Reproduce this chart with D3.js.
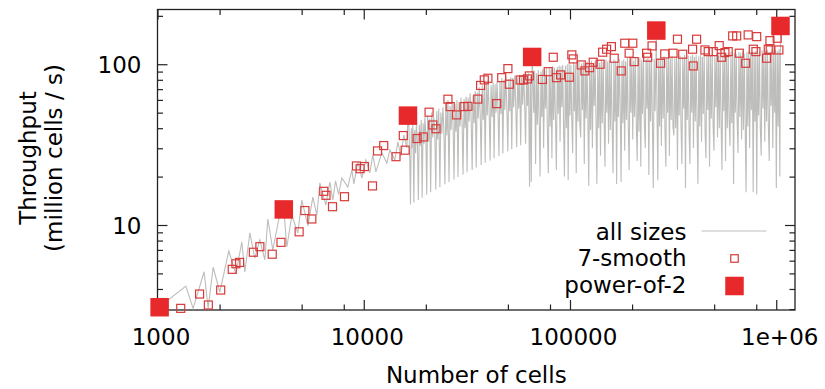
<!DOCTYPE html>
<html>
<head>
<meta charset="utf-8">
<script src="https://cdn.jsdelivr.net/npm/d3@7"></script>
<style>
  body { margin: 0; background: #fff; }
  svg text { font-family: "DejaVu Sans", sans-serif; font-size: 23px; fill: #000; }
</style>
</head>
<body>
<svg id="chart" width="825" height="389"></svg>
<script>
// [cells, million cells / s]
const powerOf2 = [[1024, 3.08], [4096, 12.5], [16384, 47.9], [65536, 111], [262144, 162], [1048576, 173]];

const smooth7 = [
  [1296, 3.03], [1600, 3.72], [1764, 3.18], [2025, 3.94], [2304, 5.3], [2400, 5.74], [2500, 5.85],
  [2916, 6.77], [3136, 7.33], [3600, 6.58], [3969, 7.8], [4860, 9.07], [5184, 12.3], [5600, 10.9],
  [6400, 16.2], [6561, 15.3], [7056, 13.0], [8064, 15.0], [9216, 23.3], [9600, 22.4], [10080, 23.1],
  [11025, 17.5], [11664, 28.9], [12500, 31.2], [14336, 26.6], [15552, 36.0], [15876, 29.2],
  [18144, 34.5], [19440, 35.3], [20736, 50.3], [21600, 41.9], [22400, 39.7], [25600, 60.6],
  [26244, 54.5], [28224, 48.4], [30618, 54.5], [32000, 54.7], [35721, 60.7], [36864, 73.8],
  [38416, 79.9], [40000, 81.8], [44100, 56.9], [46656, 82.5], [50000, 93.9], [50803, 75.1],
  [57344, 79.8], [59535, 79.8], [62208, 81.0], [63504, 84.6], [73500, 80.4], [78400, 89.9],
  [82944, 110.5], [86016, 82.5], [90000, 85.8], [99225, 83.0], [102060, 114.3], [103680, 107.9],
  [113400, 99.0], [118098, 90.9], [124416, 95.2], [129600, 102.9], [139968, 100], [144000, 118.8],
  [150528, 124.0], [158760, 128.7], [163840, 109.0], [177147, 90.9], [184320, 135.1], [193536, 117.1],
  [201600, 135.1], [204800, 103.8], [235200, 117.1], [238000, 110.5], [250000, 130.0], [275000, 101.4],
  [288000, 115.9], [316000, 117.1], [332000, 143.1], [352000, 115.4], [393000, 124.0], [396000, 97.6],
  [411000, 143.1], [451000, 122.7], [468000, 119.8], [495000, 119.8], [529000, 130.5], [544000, 110.5],
  [564000, 118.1], [585000, 119.8], [615000, 150.0], [643000, 150.0], [662000, 117.1], [711000, 101.4],
  [731000, 152.2], [774000, 124.0], [797000, 119.8], [804000, 148.5], [898000, 109.0], [914500, 124.0],
  [932000, 140.2], [935000, 122.7], [1011000, 145.1], [1030000, 122.7]
];

// all sizes, small: clean zigzag
const allSizesSmall = [
  [1024, 3.1], [1372, 4.17], [1488, 3.03], [1683, 5.12], [1760, 3.04], [1861, 5.46], [2005, 3.83],
  [2217, 6.89], [2397, 4.96], [2564, 7.84], [2651, 5.1], [2803, 8.92], [2964, 6.23], [3134, 8.07],
  [3315, 6.06], [3427, 10.9], [3624, 6.99], [3876, 10.9], [4096, 12.5], [4238, 7.3], [4481, 11.5],
  [4790, 8.92], [5010, 14.3], [5357, 9.86], [5665, 14.9], [5924, 11.5], [6125, 18.3], [6550, 13.3],
  [6849, 18.5], [7082, 14.3], [7300, 18.8], [7550, 15.5], [7831, 19.6], [8373, 17.2], [8757, 22.0],
  [8954, 18.0], [9363, 24.7], [9790, 19.6], [10240, 25.4], [10700, 21.1], [11070, 27.3], [11450, 21.4],
  [12240, 28.1], [12940, 24.3], [13390, 29.3], [14150, 25.4], [14640, 32.8], [15130, 26.9],
  [15650, 36.3], [16180, 30.2], [16384, 47.9]
];

// all sizes, medium: spikes whose floor rises with size
const allSizesMedium = [
  [16550, 41], [16700, 27], [16850, 13.4], [17000, 40], [17150, 30], [17300, 43], [17500, 13.8],
  [17650, 39], [17850, 28], [18000, 44], [18200, 33], [18400, 14.3], [18600, 42], [18800, 31],
  [19000, 45], [19200, 14.8], [19400, 43], [19600, 32], [19800, 47], [20000, 36], [20200, 15.4],
  [20400, 48], [20650, 33], [20900, 46], [21100, 16.0], [21350, 50], [21600, 35], [21850, 47],
  [22100, 38], [22350, 16.6], [22600, 51], [22850, 34], [23100, 53], [23400, 17.2], [23650, 50],
  [23900, 37], [24200, 54], [24450, 40], [24750, 17.9], [25000, 57], [25300, 36], [25600, 60],
  [25900, 18.5], [26200, 55], [26500, 39], [26800, 58], [27100, 42], [27400, 19.2], [27700, 57],
  [28000, 38], [28300, 60], [28650, 19.9], [28950, 58], [29300, 41], [29600, 62], [29950, 45],
  [30300, 20.6], [30650, 61], [31000, 40], [31350, 63], [31700, 21.3], [32050, 62], [32400, 44],
  [32800, 66], [33150, 47], [33550, 22.0], [33900, 64], [34300, 43], [34700, 68], [35100, 22.8],
  [35500, 67], [35900, 46], [36300, 72], [36700, 49], [37100, 23.6], [37550, 74], [37950, 45],
  [38400, 72], [38800, 24.4], [39250, 77], [39700, 48], [40100, 80], [40550, 51], [41000, 25.2],
  [41450, 74], [41900, 47], [42400, 77], [42850, 26.0], [43300, 75], [43800, 50], [44250, 78],
  [44750, 53], [45250, 26.9], [45750, 79], [46250, 49], [46750, 82], [47250, 27.8], [47800, 80],
  [48300, 52], [48850, 84], [49400, 55], [49950, 28.7], [50500, 81], [51050, 51], [51600, 83],
  [52200, 29.6], [52750, 82], [53350, 54], [53950, 85], [54550, 57], [55150, 30.5], [55750, 83],
  [56400, 53], [57000, 86], [57650, 31.3], [58300, 84], [58950, 56], [59600, 87], [60250, 58],
  [60900, 32], [61600, 85], [62250, 55], [62950, 88], [63650, 17.3], [64300, 84], [64900, 18.5],
  [65536, 108]
];

// all sizes, large: dense band with deep spikes
const allSizesLarge = [
  [66000, 89], [66700, 50], [67400, 91], [68100, 24], [68800, 88], [69500, 42], [70200, 92],
  [70900, 44], [71600, 20], [72300, 90], [73000, 47], [73700, 93], [74500, 30], [75300, 91],
  [76100, 53], [76900, 94], [77700, 38], [78500, 21], [79300, 95], [80100, 41], [80900, 93],
  [81700, 26], [82500, 97], [83300, 45], [84100, 95], [85000, 46], [85900, 22], [86800, 96],
  [87700, 49], [88600, 98], [89500, 33], [90400, 97], [91300, 54], [92200, 99], [93100, 40],
  [94000, 20], [95000, 98], [96000, 40], [97000, 100], [98000, 19], [99000, 101], [100000, 48],
  [101000, 99], [102000, 45], [103000, 28], [104000, 103], [105000, 51], [106100, 100], [107200, 21],
  [108300, 102], [109400, 44], [110500, 104], [111600, 42], [112700, 35], [113800, 101], [114900, 52],
  [116100, 103], [117300, 24], [118500, 100], [119700, 46], [120900, 104], [122100, 47], [123300, 17.5],
  [124500, 102], [125800, 39], [127100, 105], [128400, 30], [129700, 101], [131000, 55], [132300, 104],
  [133600, 48], [135000, 18], [136400, 106], [137800, 40], [139200, 102], [140600, 27], [142000, 105],
  [143400, 43], [144800, 103], [146300, 46], [147800, 23], [149300, 107], [150800, 50], [152300, 104],
  [153800, 32], [155300, 106], [156900, 39], [158500, 103], [160100, 41], [161700, 21], [163300, 107],
  [164900, 44], [166600, 105], [168300, 18], [170000, 104], [171700, 47], [173400, 108], [175100, 55],
  [176900, 18.5], [178700, 105], [180500, 43], [182300, 107], [184100, 29], [186000, 104], [187900, 45],
  [189800, 109], [191700, 40], [193600, 22], [195500, 106], [197500, 50], [199500, 108], [201500, 34],
  [203500, 105], [205500, 47], [207600, 109], [209700, 42], [211800, 25], [213900, 107], [216000, 38],
  [218200, 110], [220400, 23], [222600, 106], [224800, 49], [227100, 109], [229400, 42], [231700, 30],
  [234000, 108], [236300, 53], [238700, 110], [241100, 20.5], [243500, 107], [245900, 44], [248400, 111],
  [250900, 44], [253400, 17], [255900, 108], [258500, 51], [261100, 110], [262144, 162], [264000, 55],
  [266600, 19], [269300, 109], [272000, 41], [274700, 111], [277400, 31], [280200, 108], [283000, 46],
  [285800, 112], [288700, 39], [291600, 23], [294500, 109], [297400, 50], [300400, 111], [303400, 27],
  [306400, 110], [309500, 45], [312600, 113], [315700, 41], [318900, 36], [322100, 109], [325300, 40],
  [328600, 112], [331900, 22], [335200, 110], [338500, 48], [341900, 113], [345300, 43], [348800, 24],
  [352300, 111], [355800, 53], [359400, 114], [363000, 17], [366600, 110], [370300, 45], [374000, 113],
  [377700, 39], [381500, 24], [385300, 112], [389200, 50], [393100, 115], [397000, 30], [401000, 111],
  [405000, 44], [409000, 114], [413100, 43], [417200, 18], [421400, 112], [425600, 41], [429900, 115],
  [434200, 33], [438500, 111], [442900, 49], [447300, 116], [451800, 38], [456300, 26], [460900, 113],
  [465500, 52], [470200, 115], [474900, 23], [479600, 112], [484400, 46], [489200, 117], [494100, 42],
  [499000, 29], [504000, 114], [509000, 54], [514100, 116], [519200, 35], [524400, 113], [529600, 40],
  [534900, 117], [540200, 44], [545600, 22], [551100, 114], [556600, 51], [562200, 118], [567800, 25],
  [573500, 115], [579200, 40], [585000, 117], [590900, 45], [596800, 31], [602800, 119], [608800, 43],
  [614900, 115], [621000, 18], [627200, 118], [633500, 50], [639800, 116], [646200, 45], [652700, 28],
  [659200, 119], [665800, 47], [672500, 117], [679200, 34], [686000, 120], [692900, 39], [699800, 116],
  [706800, 42], [713900, 16], [721000, 119], [728200, 41], [735500, 121], [742900, 30], [750300, 117],
  [757800, 52], [765400, 120], [773100, 16], [780800, 118], [788600, 44], [796500, 121], [804500, 15.5],
  [812500, 117], [820600, 48], [828800, 120], [837100, 40], [845500, 27], [854000, 122], [862500, 53],
  [871100, 118], [879800, 33], [888600, 121], [897500, 44], [906500, 123], [915600, 42], [924800, 25],
  [934000, 119], [943300, 55], [952700, 122], [962200, 30], [971800, 120], [981500, 50], [991300, 123],
  [1001000, 17], [1011000, 121], [1021000, 41], [1031000, 124], [1041000, 20], [1048576, 173]
];

const allSizes = allSizesSmall.concat(allSizesMedium, allSizesLarge);

const xMajorTicks = [1000, 10000, 100000, 1000000];
const xTickLabels = ["1000", "10000", "100000", "1e+06"];
const xMinorTicks = [2000, 5000, 8000, 20000, 50000, 80000, 200000, 500000, 800000];
const yMajorTicks = [10, 100];
const yTickLabels = ["10", "100"];
const yMinorTicks = [3, 4, 5, 6, 7, 8, 9, 20, 30, 40, 50, 60, 70, 80, 90, 200];

const plotLeft = 157.5, plotRight = 795, plotTop = 9.5, plotBottom = 310;
const frameColor = "#222";

const svg = d3.select("#chart");

const x = d3.scaleLog().domain([1000, 1.233e6]).range([plotLeft, plotRight]);
const y = d3.scaleLog().domain([2.96, 219]).range([plotBottom, plotTop]);

// Ticks point inward on all four sides
function ticks(axis, transform) {
  const g = svg.append("g").attr("transform", transform).call(axis);
  g.select(".domain").remove();
  g.selectAll("line").attr("stroke", frameColor).attr("stroke-width", 1.2);
  g.attr("font-family", null).attr("font-size", null);
  return g;
}

const xb = ticks(d3.axisBottom(x).tickValues(xMajorTicks).tickSize(-10)
  .tickFormat((d, i) => xTickLabels[i]), `translate(0,${plotBottom})`);
xb.selectAll("text").attr("y", 35).attr("dy", null).attr("dx", 3);
ticks(d3.axisBottom(x).tickValues(xMinorTicks).tickSize(-5.5).tickFormat(""), `translate(0,${plotBottom})`);
ticks(d3.axisTop(x).tickValues(xMajorTicks).tickSize(-10).tickFormat(""), `translate(0,${plotTop})`);
ticks(d3.axisTop(x).tickValues(xMinorTicks).tickSize(-5.5).tickFormat(""), `translate(0,${plotTop})`);

const yl = ticks(d3.axisLeft(y).tickValues(yMajorTicks).tickSize(-10)
  .tickFormat((d, i) => yTickLabels[i]), `translate(${plotLeft},0)`);
yl.selectAll("text").attr("x", -16).attr("dy", "0.36em");
ticks(d3.axisLeft(y).tickValues(yMinorTicks).tickSize(-5.5).tickFormat(""), `translate(${plotLeft},0)`);
ticks(d3.axisRight(y).tickValues(yMajorTicks).tickSize(-10).tickFormat(""), `translate(${plotRight},0)`);
ticks(d3.axisRight(y).tickValues(yMinorTicks).tickSize(-5.5).tickFormat(""), `translate(${plotRight},0)`);

svg.append("rect")
  .attr("x", plotLeft).attr("y", plotTop)
  .attr("width", plotRight - plotLeft).attr("height", plotBottom - plotTop)
  .attr("fill", "none").attr("stroke", frameColor).attr("stroke-width", 1.3);

// all sizes
const line = d3.line().x(d => x(d[0])).y(d => y(d[1]));
svg.append("path")
  .datum(allSizes)
  .attr("d", line)
  .attr("fill", "none")
  .attr("stroke", "#bdbdbb")
  .attr("stroke-width", 1.1);

// 7-smooth
svg.append("g").selectAll("rect")
  .data(smooth7)
  .enter()
  .append("rect")
  .attr("x", d => x(d[0]) - 4)
  .attr("y", d => y(d[1]) - 4)
  .attr("width", 8).attr("height", 8)
  .attr("fill", "none")
  .attr("stroke", "#d83a3a")
  .attr("stroke-width", 1.2);

// power-of-2
svg.append("g").selectAll("rect")
  .data(powerOf2)
  .enter()
  .append("rect")
  .attr("x", d => x(d[0]) - 9.25)
  .attr("y", d => y(d[1]) - 9.25)
  .attr("width", 18.5).attr("height", 18.5)
  .attr("fill", "#e8292b");

// Axis titles
svg.append("text")
  .attr("x", (plotLeft + plotRight) / 2).attr("y", 383)
  .attr("text-anchor", "middle")
  .text("Number of cells");
svg.append("text")
  .attr("transform", "translate(36,158) rotate(-90)")
  .attr("text-anchor", "middle")
  .text("Throughput");
svg.append("text")
  .attr("transform", "translate(61.5,158) rotate(-90)")
  .attr("text-anchor", "middle")
  .text("(million cells / s)");

// Legend
const legend = svg.append("g");
const legendX = 686.5, sampleX = 734.5;
legend.append("text").attr("x", legendX).attr("y", 239.5).attr("text-anchor", "end").text("all sizes");
legend.append("text").attr("x", legendX).attr("y", 266).attr("text-anchor", "end").text("7-smooth");
legend.append("text").attr("x", legendX).attr("y", 292.5).attr("text-anchor", "end").text("power-of-2");
legend.append("line")
  .attr("x1", 701.5).attr("x2", 766.5).attr("y1", 231).attr("y2", 231)
  .attr("stroke", "#bdbdbb").attr("stroke-width", 1);
legend.append("rect")
  .attr("x", sampleX - 3.75).attr("y", 258.5 - 3.75).attr("width", 7.5).attr("height", 7.5)
  .attr("fill", "none").attr("stroke", "#d83a3a").attr("stroke-width", 1.2);
legend.append("rect")
  .attr("x", sampleX - 9.25).attr("y", 286 - 9.25).attr("width", 18.5).attr("height", 18.5)
  .attr("fill", "#e8292b");
</script>
</body>
</html>
